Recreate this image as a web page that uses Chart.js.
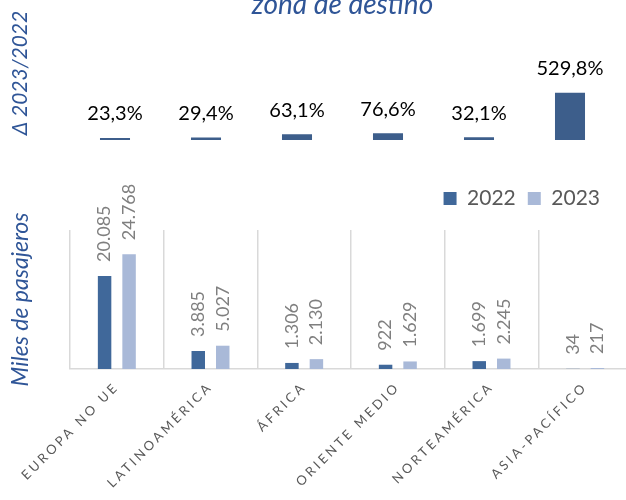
<!DOCTYPE html>
<html>
<head>
<meta charset="utf-8">
<script src="https://cdn.jsdelivr.net/npm/chart.js@4/dist/chart.umd.min.js"></script>
<style>
  html, body { margin: 0; padding: 0; background: #fff; overflow: hidden; }
  #wrap { position: relative; width: 626px; height: 500px; overflow: hidden; }
  canvas { position: absolute; left: 0; }
</style>
</head>
<body>
<div id="wrap">
  <canvas id="chartTop" width="626" height="160" style="top:0"></canvas>
  <canvas id="chartBottom" width="640" height="340" style="top:160px"></canvas>
</div>
<script>
const categories = ['EUROPA NO UE', 'LATINOAMÉRICA', 'ÁFRICA', 'ORIENTE MEDIO', 'NORTEAMÉRICA', 'ASIA-PACÍFICO'];
const pax2022 = [20085, 3885, 1306, 922, 1699, 34];
const pax2023 = [24768, 5027, 2130, 1629, 2245, 217];
const change = [23.3, 29.4, 63.1, 76.6, 32.1, 529.8];

const blueTitle = '#2f5597';
const fontFam = 'Lato, "Open Sans", sans-serif';

function fmtThousands(v) {
  return String(v).replace(/\B(?=(\d{3})+(?!\d))/g, '.');
}
function fmtPct(v) {
  return v.toFixed(1).replace('.', ',') + '%';
}

// draws the value above each bar
function valueLabels(cfg) {
  return {
    id: 'valueLabels',
    afterDatasetsDraw(chart) {
      const ctx = chart.ctx;
      ctx.save();
      ctx.letterSpacing = '0px';
      ctx.font = cfg.font;
      ctx.fillStyle = cfg.color;
      ctx.textBaseline = 'middle';
      chart.data.datasets.forEach((ds, i) => {
        chart.getDatasetMeta(i).data.forEach((bar, j) => {
          ctx.save();
          ctx.translate(bar.x, bar.y - cfg.gap);
          if (cfg.vertical) {
            ctx.rotate(-Math.PI / 2);
            ctx.textAlign = 'left';
          } else {
            ctx.textAlign = 'center';
          }
          ctx.fillText(cfg.format(ds.data[j]), 0, 0);
          ctx.restore();
        });
      });
      ctx.restore();
    }
  };
}

// spaced capitals on the category axis (ticks are drawn after the datasets, z: 1)
const tickSpacing = {
  id: 'tickSpacing',
  beforeDraw(chart) { chart.ctx.letterSpacing = '0px'; },
  afterDatasetsDraw(chart) { chart.ctx.letterSpacing = '3px'; }
};

// move the legend up and left, like in the original
const legendNudge = {
  id: 'legendNudge',
  afterLayout(chart) {
    const l = chart.legend;
    l.left -= 20; l.right -= 20;
    l.top -= 11; l.bottom -= 11;
  }
};

const topChart = new Chart(document.getElementById('chartTop'), {
  type: 'bar',
  data: {
    labels: categories,
    datasets: [{
      label: 'Δ 2023/2022',
      data: change,
      backgroundColor: '#3d5e8b',
      categoryPercentage: 1,
      barPercentage: 0.33
    }]
  },
  options: {
    responsive: false,
    animation: false,
    layout: { padding: { left: 0, right: 10.5, top: 0, bottom: 20 } },
    plugins: {
      legend: { display: false },
      tooltip: { enabled: false },
      title: {
        display: true,
        text: 'zona de destino',
        fullSize: false,
        color: blueTitle,
        font: { family: fontFam, size: 28, style: 'italic', weight: 'normal' },
        padding: { top: -12, bottom: -15.5 }
      }
    },
    scales: {
      x: { display: false },
      y: {
        min: 0,
        max: 1500,
        ticks: { display: false },
        grid: { display: false },
        border: { display: false },
        title: {
          display: true,
          text: 'Δ 2023/2022',
          color: blueTitle,
          font: { family: fontFam, size: 21, style: 'italic' },
          padding: { top: 8, bottom: 0 }
        },
        afterFit(s) { s.width = 69.5; }
      }
    }
  },
  plugins: [valueLabels({ font: '20px ' + fontFam, color: '#000', gap: 24, vertical: false, format: fmtPct })]
});

const bottomChart = new Chart(document.getElementById('chartBottom'), {
  type: 'bar',
  data: {
    labels: categories,
    datasets: [{
      label: '2022',
      data: pax2022,
      backgroundColor: '#40689a',
      categoryPercentage: 0.523,
      barPercentage: 0.55
    }, {
      label: '2023',
      data: pax2023,
      backgroundColor: '#a9b9d8',
      categoryPercentage: 0.523,
      barPercentage: 0.55
    }]
  },
  options: {
    responsive: false,
    animation: false,
    layout: { padding: { left: 0, right: 8, top: 27, bottom: 0 } },
    plugins: {
      tooltip: { enabled: false },
      legend: {
        position: 'top',
        align: 'end',
        labels: {
          boxWidth: 13,
          boxHeight: 13,
          padding: 12,
          color: '#595959',
          font: { family: fontFam, size: 21 }
        }
      }
    },
    scales: {
      x: {
        grid: { offset: true, color: '#d9d9d9', lineWidth: 1.5, drawTicks: false },
        border: { color: '#d9d9d9', width: 1.5 },
        ticks: {
          autoSkip: false,
          minRotation: 45,
          maxRotation: 45,
          color: '#595959',
          font: { family: fontFam, size: 13 },
          padding: 10,
          z: 1
        },
        afterFit(s) { s.height = 131; }
      },
      y: {
        min: 0,
        max: 30000,
        ticks: { display: false },
        grid: { display: false },
        border: { display: false },
        title: {
          display: true,
          text: 'Miles de pasajeros',
          color: blueTitle,
          font: { family: fontFam, size: 23, style: 'italic' },
          padding: { top: 7, bottom: 0 }
        },
        afterFit(s) { s.width = 70; }
      }
    }
  },
  plugins: [
    valueLabels({ font: '18px ' + fontFam, color: '#7f7f7f', gap: 14, vertical: true, format: fmtThousands }),
    tickSpacing,
    legendNudge
  ]
});
</script>
</body>
</html>
